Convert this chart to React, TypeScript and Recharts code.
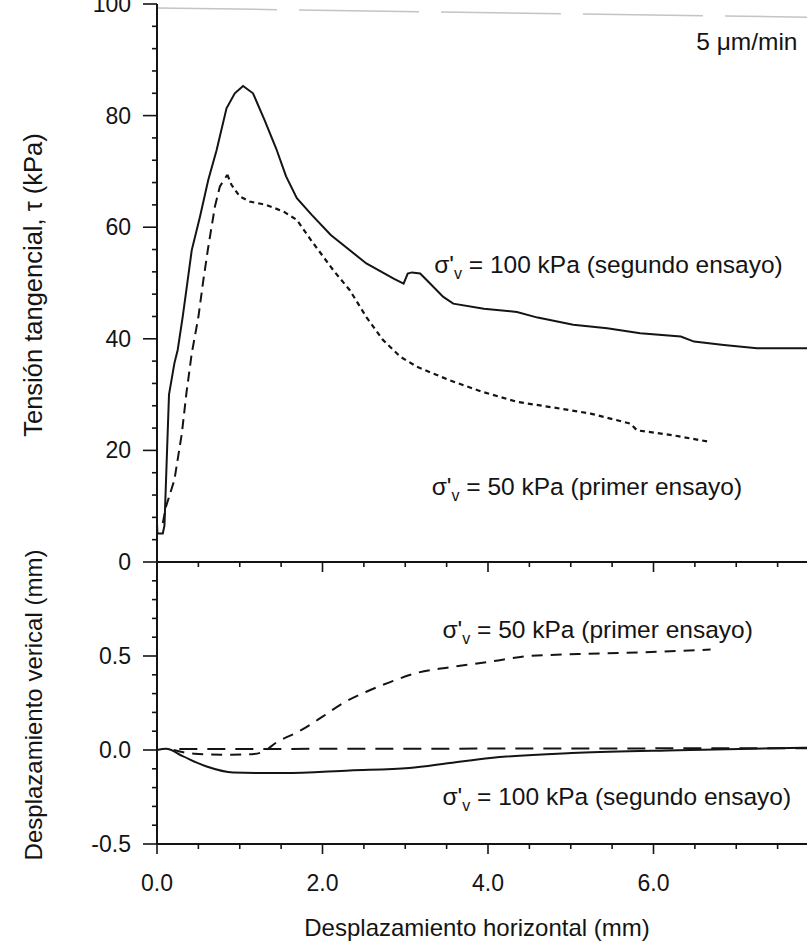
import { Label, Line, LineChart, ReferenceDot, ReferenceLine, XAxis, YAxis } from 'recharts';

const FONT = '"Liberation Sans", Arial, Helvetica, sans-serif';
const INK = '#141414';

// horizontal displacement (mm) ticks, shared by both panels
const xTicks = [0, 0.5, 1, 1.5, 2, 2.5, 3, 3.5, 4, 4.5, 5, 5.5, 6, 6.5, 7, 7.5];
const xLabelled = [0, 2, 4, 6];
const tauTicks = [0, 4, 8, 12, 16, 20, 24, 28, 32, 36, 40, 44, 48, 52, 56, 60, 64, 68, 72, 76, 80, 84, 88, 92, 96, 100];
const tauLabelled = [0, 20, 40, 60, 80, 100];
const dvTicks = [-0.5, -0.4, -0.3, -0.2, -0.1, 0, 0.1, 0.2, 0.3, 0.4, 0.5, 0.6, 0.7, 0.8, 0.9];
const dvLabelled = [-0.5, 0, 0.5];

// σ'v = 100 kPa (segundo ensayo), shear stress
const tau100X = [0, 0.005, 0.07, 0.09, 0.11, 0.145, 0.21, 0.25, 0.31, 0.36, 0.42, 0.52, 0.62, 0.72, 0.84, 0.94, 1.04, 1.16, 1.3, 1.44, 1.56, 1.69, 1.87, 2.1, 2.53, 2.86, 2.98, 3.03, 3.08, 3.18, 3.3, 3.46, 3.58, 3.95, 4.35, 4.6, 5.03, 5.44, 5.84, 6.33, 6.49, 6.85, 7.25, 7.86, 8.0];
const tau100Y = [7, 5.1, 5.1, 6.5, 15, 30, 35.6, 38, 43.9, 49.3, 55.9, 61.9, 68.5, 73.8, 81.3, 84, 85.3, 84, 79.2, 74.1, 69.1, 65.2, 62.2, 58.6, 53.5, 50.8, 49.9, 51.7, 51.9, 51.7, 49.9, 47.5, 46.3, 45.4, 44.8, 43.8, 42.5, 41.9, 41, 40.4, 39.5, 38.9, 38.3, 38.3, 38.2];

// σ'v = 50 kPa (primer ensayo), shear stress: loading up to peak, then softening
const tau50RiseX = [0.07, 0.11, 0.21, 0.3, 0.355, 0.42, 0.5, 0.56, 0.62, 0.7, 0.76, 0.85];
const tau50RiseY = [7, 10, 14.7, 23, 30.2, 37.4, 43.9, 50.5, 56.5, 63.7, 67.3, 69.4];
const tau50FallX = [0.85, 0.9, 1.0, 1.12, 1.32, 1.53, 1.69, 1.85, 2.13, 2.33, 2.53, 2.73, 2.94, 3.14, 3.53, 3.93, 4.35, 4.87, 5.24, 5.72, 5.8, 6.24, 6.69];
const tau50FallY = [69.4, 67.6, 65.5, 64.6, 64, 62.8, 61.3, 57.9, 52.3, 48.7, 43.9, 39.8, 36.8, 35, 32.6, 30.5, 28.7, 27.5, 26.6, 24.8, 23.6, 22.7, 21.5];

// vertical displacement (mm)
const dv100X = [0, 0.11, 0.31, 0.6, 0.92, 1.53, 2.33, 3.05, 3.54, 4.03, 5.09, 6.3, 7.82, 8.0];
const dv100Y = [0, 0.006, -0.033, -0.088, -0.12, -0.123, -0.109, -0.096, -0.069, -0.042, -0.015, -0.001, 0.012, 0.013];
const dv50X = [0.2, 0.45, 0.9, 1.15, 1.28, 1.44, 1.72, 2.01, 2.25, 2.53, 2.81, 3.14, 3.54, 4.03, 4.49, 5.09, 5.89, 6.69];
const dv50Y = [0, -0.02, -0.025, -0.022, -0.01, 0.039, 0.1, 0.18, 0.25, 0.31, 0.36, 0.41, 0.44, 0.47, 0.5, 0.51, 0.52, 0.534];

const toPoints = (xs: number[], ys: number[]) => xs.map((x, i) => ({ x, y: ys[i] }));

const near = (v: number, list: number[]) => list.some((t) => Math.abs(t - v) < 1e-6);

function XTick(props: any) {
  const { x, y, payload, showLabels } = props;
  const v = payload.value as number;
  const major = near(v, xLabelled);
  return (
    <g>
      <line x1={x} y1={y} x2={x} y2={y + (major ? 10 : 5)} stroke={INK} strokeWidth={1.6} />
      {showLabels && major && (
        <text x={x} y={y + 47} textAnchor="middle" fontSize={23} fontFamily={FONT} fill={INK}>
          {v.toFixed(1)}
        </text>
      )}
    </g>
  );
}

function YTick(props: any) {
  const { x, y, payload, labelled, digits } = props;
  const v = payload.value as number;
  const major = near(v, labelled);
  return (
    <g>
      <line x1={x - (major ? 14 : 5)} y1={y} x2={x} y2={y} stroke={INK} strokeWidth={1.6} />
      {major && (
        <text x={x - 26} y={y + 8} textAnchor="end" fontSize={23} fontFamily={FONT} fill={INK}>
          {v.toFixed(digits)}
        </text>
      )}
    </g>
  );
}

function SigmaNote({ cx, cy, rest }: { cx: number; cy: number; rest: string }) {
  return (
    <text x={cx} y={cy} fontSize={24.5} fontFamily={FONT} fill={INK}>
      <tspan>σ'</tspan>
      <tspan fontSize={16} dy={6}>v</tspan>
      <tspan dy={-6}>{rest}</tspan>
    </text>
  );
}

function YTitle({ viewBox, text, size }: any) {
  const vb = viewBox || { x: 0, y: 0, width: 0, height: 0 };
  const cx = vb.x + 42;
  const cy = vb.y + vb.height / 2 + 2;
  return (
    <text x={cx} y={cy} transform={`rotate(-90 ${cx} ${cy})`} textAnchor="middle" fontSize={size} fontFamily={FONT} fill={INK}>
      {text}
    </text>
  );
}

function XTitle({ viewBox }: any) {
  const vb = viewBox || { x: 0, y: 0, width: 0, height: 0 };
  return (
    <text x={vb.x + 320} y={vb.y + 92} textAnchor="middle" fontSize={24} fontFamily={FONT} fill={INK}>
      Desplazamiento horizontal (mm)
    </text>
  );
}

const W = 819;

export default function App() {
  return (
    <div style={{ position: 'absolute', left: 0, top: 0, width: 807, height: 944, overflow: 'hidden', background: '#fff' }}>
      {/* shear stress panel */}
      <div style={{ position: 'absolute', left: 0, top: 0 }}>
        <LineChart width={W} height={600} margin={{ top: 4, right: 0, bottom: 8, left: 0 }}>
          <XAxis
            dataKey="x"
            type="number"
            domain={[0, 8]}
            allowDataOverflow
            ticks={xTicks}
            interval={0}
            height={30}
            tickSize={0}
            tickMargin={0}
            tickLine={false}
            axisLine={{ stroke: INK, strokeWidth: 2 }}
            tick={(p: any) => <XTick {...p} showLabels={false} />}
          />
          <YAxis
            dataKey="y"
            type="number"
            domain={[0, 100]}
            ticks={tauTicks}
            interval={0}
            width={157}
            tickSize={0}
            tickMargin={0}
            tickLine={false}
            axisLine={{ stroke: INK, strokeWidth: 2 }}
            tick={(p: any) => <YTick {...p} labelled={tauLabelled} digits={0} />}
          >
            <Label content={(p: any) => <YTitle {...p} size={25.5} text="Tensión tangencial, τ (kPa)" />} />
          </YAxis>
          <ReferenceLine
            segment={[{ x: 0, y: 99.3 }, { x: 8, y: 97.6 }]}
            stroke="#c4c4c4"
            strokeWidth={1.5}
            strokeDasharray="120 22"
            ifOverflow="visible"
          />
          <Line data={toPoints(tau100X, tau100Y)} dataKey="y" type="linear" stroke={INK} strokeWidth={2} dot={false} isAnimationActive={false} />
          <Line data={toPoints(tau50RiseX, tau50RiseY)} dataKey="y" type="linear" stroke={INK} strokeWidth={2} strokeDasharray="10 6" dot={false} isAnimationActive={false} />
          <Line data={toPoints(tau50FallX, tau50FallY)} dataKey="y" type="linear" stroke={INK} strokeWidth={2.2} strokeDasharray="5 4" dot={false} isAnimationActive={false} />
          <ReferenceDot
            x={7.74}
            y={91.8}
            r={0}
            shape={(p: any) => (
              <text x={p.cx} y={p.cy} textAnchor="end" fontSize={24.5} fontFamily={FONT} fill={INK}>
                5 μm/min
              </text>
            )}
          />
          <ReferenceDot x={3.35} y={51.8} r={0} shape={(p: any) => <SigmaNote cx={p.cx} cy={p.cy} rest=" = 100 kPa (segundo ensayo)" />} />
          <ReferenceDot x={3.32} y={12} r={0} shape={(p: any) => <SigmaNote cx={p.cx} cy={p.cy} rest=" = 50 kPa (primer ensayo)" />} />
        </LineChart>
      </div>

      {/* vertical displacement panel */}
      <div style={{ position: 'absolute', left: 0, top: 0 }}>
        <LineChart width={W} height={944} margin={{ top: 562, right: 0, bottom: 0, left: 0 }}>
          <XAxis
            dataKey="x"
            type="number"
            domain={[0, 8]}
            allowDataOverflow
            ticks={xTicks}
            interval={0}
            height={100}
            tickSize={0}
            tickMargin={0}
            tickLine={false}
            axisLine={{ stroke: INK, strokeWidth: 2 }}
            tick={(p: any) => <XTick {...p} showLabels />}
          >
            <Label content={(p: any) => <XTitle {...p} />} />
          </XAxis>
          <YAxis
            dataKey="y"
            type="number"
            domain={[-0.5, 1.0]}
            ticks={dvTicks}
            interval={0}
            width={157}
            tickSize={0}
            tickMargin={0}
            tickLine={false}
            axisLine={{ stroke: INK, strokeWidth: 2 }}
            tick={(p: any) => <YTick {...p} labelled={dvLabelled} digits={1} />}
          >
            <Label content={(p: any) => <YTitle {...p} size={24} text="Desplazamiento verical (mm)" />} />
          </YAxis>
          <ReferenceLine
            segment={[{ x: 0.27, y: 0.005 }, { x: 8, y: 0.01 }]}
            stroke={INK}
            strokeWidth={2}
            strokeDasharray="18 10"
          />
          <Line data={toPoints(dv100X, dv100Y)} dataKey="y" type="monotone" stroke={INK} strokeWidth={2} dot={false} isAnimationActive={false} />
          <Line data={toPoints(dv50X, dv50Y)} dataKey="y" type="monotone" stroke={INK} strokeWidth={2} strokeDasharray="11 8" dot={false} isAnimationActive={false} />
          <ReferenceDot x={3.45} y={0.596} r={0} shape={(p: any) => <SigmaNote cx={p.cx} cy={p.cy} rest=" = 50 kPa (primer ensayo)" />} />
          <ReferenceDot x={3.45} y={-0.293} r={0} shape={(p: any) => <SigmaNote cx={p.cx} cy={p.cy} rest=" = 100 kPa (segundo ensayo)" />} />
        </LineChart>
      </div>
    </div>
  );
}
